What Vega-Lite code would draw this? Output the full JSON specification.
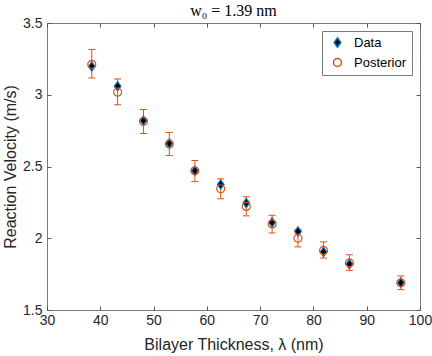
{
  "$schema": "https://vega.github.io/schema/vega-lite/v6.json",
  "width": 373,
  "height": 287,
  "autosize": {"type": "none"},
  "padding": {"left": 47, "top": 23, "right": 12, "bottom": 46},
  "background": "white",
  "title": {"text": "w₀ = 1.39 nm", "font": "Liberation Serif, DejaVu Serif", "fontSize": 16, "fontWeight": "normal", "color": "black", "anchor": "middle", "offset": -3},
  "config": {
    "view": {"stroke": "#7a7a7a", "strokeWidth": 1},
    "axis": {"grid": false, "domain": false, "labelFlush": false, "tickColor": "#555555", "tickSize": -4, "labelFont": "Liberation Sans", "labelFontSize": 14, "labelColor": "#262626", "titleFont": "Liberation Sans", "titleFontSize": 16, "titleFontWeight": "normal", "titleColor": "#262626"},
    "legend": {"orient": "top-right", "offset": 8, "strokeColor": "#7a7a7a", "fillColor": "white", "padding": 5, "labelFont": "Liberation Sans", "labelFontSize": 13, "labelColor": "black", "rowPadding": 4, "symbolOffset": 4, "labelOffset": 10}
  },
  "data": {"values": [
    {"series": "Data", "x": 38.4, "y": 3.197},
    {"series": "Data", "x": 43.25, "y": 3.06},
    {"series": "Data", "x": 48.1, "y": 2.82},
    {"series": "Data", "x": 52.95, "y": 2.66},
    {"series": "Data", "x": 57.75, "y": 2.47},
    {"series": "Data", "x": 62.6, "y": 2.375},
    {"series": "Data", "x": 67.4, "y": 2.245},
    {"series": "Data", "x": 72.25, "y": 2.11},
    {"series": "Data", "x": 77.1, "y": 2.047},
    {"series": "Data", "x": 81.9, "y": 1.905},
    {"series": "Data", "x": 86.75, "y": 1.82},
    {"series": "Data", "x": 96.4, "y": 1.69},
    {"series": "Posterior", "x": 38.4, "y": 3.212, "lo": 3.117, "hi": 3.316},
    {"series": "Posterior", "x": 43.25, "y": 3.018, "lo": 2.93, "hi": 3.11},
    {"series": "Posterior", "x": 48.1, "y": 2.815, "lo": 2.73, "hi": 2.897},
    {"series": "Posterior", "x": 52.95, "y": 2.657, "lo": 2.577, "hi": 2.737},
    {"series": "Posterior", "x": 57.75, "y": 2.47, "lo": 2.395, "hi": 2.542},
    {"series": "Posterior", "x": 62.6, "y": 2.345, "lo": 2.275, "hi": 2.414},
    {"series": "Posterior", "x": 67.4, "y": 2.222, "lo": 2.156, "hi": 2.289},
    {"series": "Posterior", "x": 72.25, "y": 2.1, "lo": 2.037, "hi": 2.16},
    {"series": "Posterior", "x": 77.1, "y": 2.0, "lo": 1.94, "hi": 2.06},
    {"series": "Posterior", "x": 81.9, "y": 1.915, "lo": 1.862, "hi": 1.975},
    {"series": "Posterior", "x": 86.75, "y": 1.828, "lo": 1.776, "hi": 1.885},
    {"series": "Posterior", "x": 96.4, "y": 1.69, "lo": 1.642, "hi": 1.737}
  ]},
  "resolve": {"axis": {"x": "independent", "y": "independent"}},
  "layer": [
    {
      "transform": [{"filter": "datum.series === 'Posterior'"}],
      "mark": {"type": "rule", "color": "#D95319", "strokeWidth": 1},
      "encoding": {
        "x": {"field": "x", "type": "quantitative", "scale": {"domain": [30, 100], "nice": false}, "axis": {"orient": "bottom", "values": [30, 40, 50, 60, 70, 80, 90, 100], "labelPadding": 7, "title": "Bilayer Thickness, λ (nm)", "titlePadding": 9}},
        "y": {"field": "lo", "type": "quantitative", "scale": {"domain": [1.5, 3.5], "nice": false, "zero": false}, "axis": {"orient": "left", "values": [1.5, 2, 2.5, 3, 3.5], "format": "~g", "labelPadding": 9, "title": "Reaction Velocity (m/s)", "titlePadding": 4}},
        "y2": {"field": "hi"}
      }
    },
    {
      "transform": [{"filter": "datum.series === 'Posterior'"}],
      "mark": {"type": "tick", "orient": "horizontal", "color": "#D95319", "size": 7, "thickness": 1, "opacity": 1},
      "encoding": {
        "x": {"field": "x", "type": "quantitative", "axis": null},
        "y": {"field": "lo", "type": "quantitative", "axis": null}
      }
    },
    {
      "transform": [{"filter": "datum.series === 'Posterior'"}],
      "mark": {"type": "tick", "orient": "horizontal", "color": "#D95319", "size": 7, "thickness": 1, "opacity": 1},
      "encoding": {
        "x": {"field": "x", "type": "quantitative", "axis": null},
        "y": {"field": "hi", "type": "quantitative", "axis": null}
      }
    },
    {
      "mark": {"type": "point", "filled": true, "opacity": 1, "strokeWidth": 1.2},
      "encoding": {
        "x": {"field": "x", "type": "quantitative", "axis": {"orient": "top", "values": [30, 40, 50, 60, 70, 80, 90, 100], "labels": false, "title": null}},
        "y": {"field": "y", "type": "quantitative", "axis": {"orient": "right", "values": [1.5, 2, 2.5, 3, 3.5], "labels": false, "title": null}},
        "shape": {"field": "series", "type": "nominal", "scale": {"domain": ["Data", "Posterior"], "range": ["M0,-1L0.72,0L0,1L-0.72,0Z", "circle"]}, "legend": {"title": null}},
        "fill": {"field": "series", "type": "nominal", "scale": {"domain": ["Data", "Posterior"], "range": ["black", "transparent"]}, "legend": {"title": null}},
        "stroke": {"field": "series", "type": "nominal", "scale": {"domain": ["Data", "Posterior"], "range": ["#0072BD", "#D95319"]}, "legend": {"title": null}},
        "size": {"field": "series", "type": "nominal", "scale": {"domain": ["Data", "Posterior"], "range": [85, 64]}, "legend": {"title": null}}
      }
    }
  ]
}
